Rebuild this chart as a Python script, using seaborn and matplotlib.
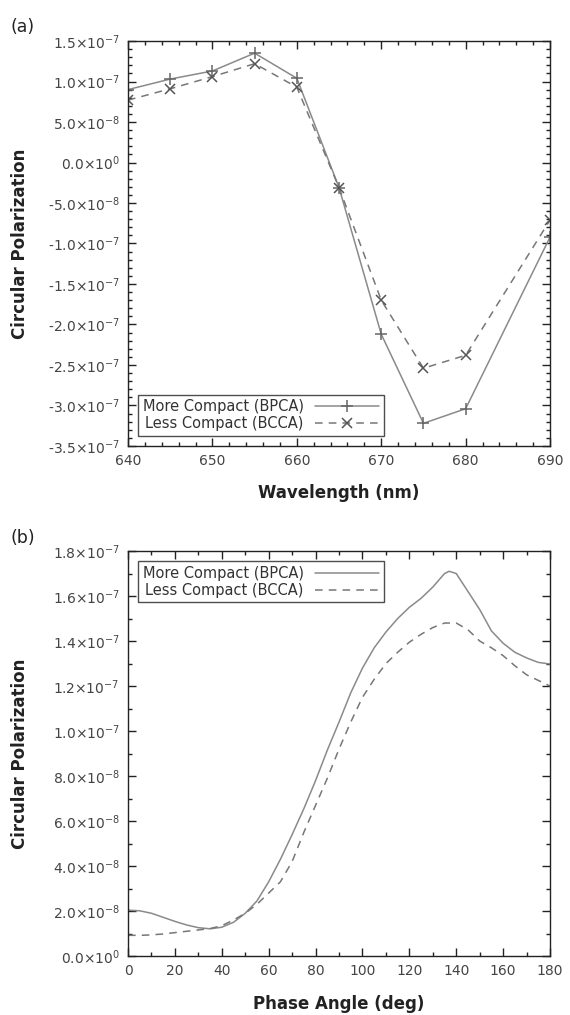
import numpy as np
import pandas as pd
import matplotlib
matplotlib.use("Agg")
import matplotlib.pyplot as plt
import seaborn as sns
from matplotlib.ticker import MultipleLocator, FuncFormatter

# panel (a): circular polarization vs wavelength
wl = [640, 645, 650, 655, 660, 665, 670, 675, 680, 690]
cp_more = [0.90e-7, 1.03e-7, 1.13e-7, 1.35e-7, 1.04e-7, -0.31e-7, -2.12e-7, -3.22e-7, -3.04e-7, -0.92e-7]
cp_less = [0.77e-7, 0.91e-7, 1.06e-7, 1.22e-7, 0.93e-7, -0.31e-7, -1.70e-7, -2.54e-7, -2.38e-7, -0.71e-7]

# panel (b): circular polarization vs phase angle
phase = [0, 5, 10, 15, 20, 25, 30, 35, 40, 45, 50, 55, 60, 65, 70, 75, 80, 85, 90,
         95, 100, 105, 110, 115, 120, 125, 130, 135, 137, 140, 145, 150, 155, 160,
         165, 170, 175, 180]
ph_more = [0.204, 0.201, 0.190, 0.172, 0.154, 0.138, 0.126, 0.121, 0.128, 0.150,
           0.190, 0.245, 0.33, 0.43, 0.54, 0.655, 0.78, 0.915, 1.04, 1.17, 1.28,
           1.37, 1.44, 1.50, 1.55, 1.59, 1.64, 1.70, 1.71, 1.70, 1.62, 1.54, 1.445,
           1.39, 1.35, 1.325, 1.305, 1.298]
ph_less = [0.092, 0.092, 0.094, 0.098, 0.104, 0.110, 0.116, 0.122, 0.135, 0.160,
           0.19, 0.23, 0.28, 0.33, 0.42, 0.55, 0.67, 0.79, 0.92, 1.04, 1.15, 1.23,
           1.30, 1.35, 1.395, 1.43, 1.46, 1.48, 1.48, 1.48, 1.45, 1.40, 1.37, 1.335,
           1.29, 1.25, 1.225, 1.20]

labels = ["More Compact (BPCA)", "Less Compact (BCCA)"]

dfa = pd.DataFrame({"wl": wl, "more": cp_more, "less": cp_less})
dfb = pd.DataFrame({"phase": phase, "more": np.array(ph_more) * 1e-7,
                    "less": np.array(ph_less) * 1e-7})

sns.set_style("ticks")
plt.rcParams["font.family"] = ["DejaVu Sans"]


def sci(v, pos):
    if abs(v) < 1e-20:
        return r"0.0$\times$10$^{0}$"
    e = int(np.floor(np.log10(abs(v)) + 1e-9))
    m = v / 10 ** e
    return r"%.1f$\times$10$^{%d}$" % (m, e)


fig = plt.figure(figsize=(5.7, 10.15), dpi=100)
ax1 = fig.add_axes([0.2246, 0.5606, 0.7404, 0.399])
ax2 = fig.add_axes([0.2246, 0.0581, 0.7404, 0.399])

c_more = "#8a8a8a"
c_less = "#777777"

sns.lineplot(data=dfa, x="wl", y="more", ax=ax1, color=c_more, lw=1.1,
             marker="+", markersize=9, mew=1.1, mec="#666666", label=labels[0])
sns.lineplot(data=dfa, x="wl", y="less", ax=ax1, color=c_less, lw=1.1,
             linestyle=(0, (5, 4)), marker="x", markersize=7, mew=1.1, mec="#555555",
             label=labels[1])

sns.lineplot(data=dfb, x="phase", y="more", ax=ax2, color=c_more, lw=1.1, label=labels[0])
sns.lineplot(data=dfb, x="phase", y="less", ax=ax2, color=c_less, lw=1.1,
             linestyle=(0, (5, 4)), label=labels[1])

ax1.set_xlim(640, 690)
ax1.set_ylim(-3.5e-7, 1.5e-7)
ax1.xaxis.set_major_locator(MultipleLocator(10))
ax1.xaxis.set_minor_locator(MultipleLocator(2))
ax1.yaxis.set_major_locator(MultipleLocator(0.5e-7))
ax1.yaxis.set_minor_locator(MultipleLocator(0.1e-7))

ax2.set_xlim(0, 180)
ax2.set_ylim(0, 1.8e-7)
ax2.xaxis.set_major_locator(MultipleLocator(20))
ax2.xaxis.set_minor_locator(MultipleLocator(10))
ax2.yaxis.set_major_locator(MultipleLocator(0.2e-7))
ax2.yaxis.set_minor_locator(MultipleLocator(0.1e-7))

for ax, xl, loc in [(ax1, "Wavelength (nm)", "lower left"), (ax2, "Phase Angle (deg)", "upper left")]:
    ax.yaxis.set_major_formatter(FuncFormatter(sci))
    ax.tick_params(which="both", direction="in", top=True, right=True,
                   labelsize=10, labelcolor="#444444", color="#222222", width=1.0)
    ax.tick_params(which="major", length=6, pad=6)
    ax.tick_params(which="minor", length=3)
    for s in ax.spines.values():
        s.set_linewidth(1.0)
        s.set_color("#222222")
    ax.set_xlabel(xl, fontsize=12, fontweight="bold", color="#222222")
    ax.set_ylabel("Circular Polarization", fontsize=12, fontweight="bold", color="#222222")
    ax.yaxis.set_label_coords(-0.235, 0.5)
    ax.xaxis.set_label_coords(0.5, -0.095)
    leg = ax.legend(loc=loc, markerfirst=False, fontsize=10.5, frameon=True, fancybox=False,
                    borderaxespad=0.7, handlelength=4.4, borderpad=0.3, labelspacing=0.15,
                    handletextpad=0.8)
    leg.get_frame().set_edgecolor("#222222")
    leg.get_frame().set_linewidth(1.0)
    for t in leg.get_texts():
        t.set_color("#333333")

fig.text(0.018, 0.968, "(a)", fontsize=12.5, color="#222222")
fig.text(0.018, 0.465, "(b)", fontsize=12.5, color="#222222")

fig.savefig("out.png", dpi=100)
